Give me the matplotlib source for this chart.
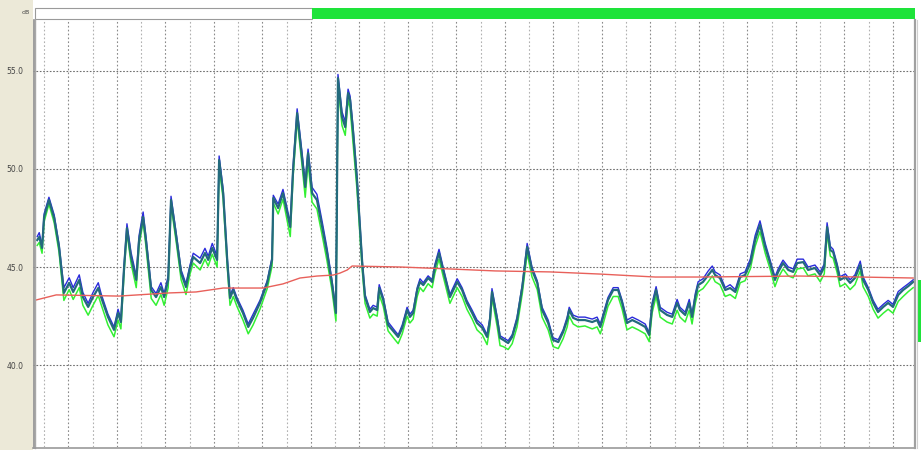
import matplotlib
matplotlib.use("Agg")
import matplotlib.pyplot as plt
from matplotlib.patches import Rectangle
from matplotlib.lines import Line2D

# Elapsed time of each reading (s)
t_sec = [43, 48, 55, 60, 72, 85, 97, 109, 122, 132,
         147, 156, 169, 181, 194, 201, 218, 233, 243, 250,
         258, 265, 275, 288, 295, 305, 312, 325, 337, 349,
         357, 367, 374, 387, 399, 411, 421, 429, 446, 458,
         466, 476, 488, 493, 503, 513, 520, 528, 537, 552,
         565, 577, 594, 612, 624, 627, 639, 651, 669, 676,
         686, 698, 706, 713, 723, 735, 748, 760, 772, 782,
         787, 797, 805, 812, 817, 824, 834, 842, 847, 854,
         866, 874, 884, 889, 899, 911, 928, 936, 946, 958,
         965, 973, 983, 990, 998, 1010, 1020, 1027, 1037, 1047,
         1064, 1082, 1094, 1106, 1119, 1131, 1144, 1156, 1163, 1168,
         1181, 1188, 1196, 1208, 1218, 1230, 1243, 1255, 1267, 1280,
         1292, 1307, 1319, 1332, 1344, 1354, 1359, 1369, 1381, 1398,
         1416, 1428, 1436, 1443, 1455, 1468, 1480, 1490, 1502, 1515,
         1530, 1547, 1557, 1564, 1574, 1584, 1601, 1614, 1626, 1633,
         1646, 1656, 1663, 1671, 1678, 1690, 1703, 1713, 1720, 1732,
         1745, 1757, 1770, 1782, 1794, 1807, 1819, 1831, 1844, 1856,
         1868, 1876, 1888, 1901, 1913, 1923, 1938, 1950, 1967, 1980,
         1990, 1997, 2005, 2012, 2022, 2029, 2042, 2054, 2066, 2079,
         2086, 2099, 2111, 2123, 2136, 2148, 2160, 2173, 2185, 2198,
         2210]

# Short-term equivalent level (dB)
leq = [46.37, 46.53, 45.97, 47.54, 48.41, 47.49, 46.02, 43.68, 44.19, 43.73,
       44.34, 43.47, 42.97, 43.47, 43.93, 43.47, 42.46, 41.80, 42.66, 42.20,
       45.00, 46.98, 45.51, 44.34, 46.37, 47.54, 46.37, 43.83, 43.47, 43.98,
       43.47, 44.34, 48.41, 46.53, 44.69, 43.98, 44.95, 45.51, 45.20, 45.71,
       45.36, 45.97, 45.36, 50.44, 48.76, 45.36, 43.42, 43.83, 43.32, 42.66,
       41.95, 42.41, 43.17, 44.19, 45.36, 48.51, 48.00, 48.76, 47.03, 49.93,
       52.83, 50.60, 49.07, 50.80, 48.76, 48.41, 47.03, 45.71, 44.19, 42.66,
       54.61, 52.63, 52.12, 53.85, 53.50, 51.97, 49.43, 46.88, 45.20, 43.47,
       42.71, 42.91, 42.81, 43.93, 43.32, 42.05, 41.64, 41.44, 41.90, 42.81,
       42.46, 42.66, 43.83, 44.24, 44.08, 44.44, 44.24, 45.00, 45.71, 44.85,
       43.47, 44.24, 43.83, 43.17, 42.66, 42.15, 41.90, 41.44, 42.30, 43.73,
       42.30, 41.39, 41.29, 41.13, 41.44, 42.30, 43.98, 46.02, 44.85, 44.19,
       42.81, 42.15, 41.29, 41.18, 41.69, 42.30, 42.81, 42.41, 42.30, 42.30,
       42.20, 42.30, 41.95, 42.46, 43.32, 43.83, 43.83, 43.17, 42.15, 42.30,
       42.15, 41.95, 41.54, 42.97, 43.83, 42.81, 42.56, 42.46, 43.17, 42.81,
       42.56, 43.17, 42.46, 43.47, 44.08, 44.24, 44.59, 44.85, 44.59, 44.44,
       43.83, 43.93, 43.73, 44.49, 44.59, 45.20, 46.37, 47.14, 46.02, 45.20,
       44.34, 44.75, 45.20, 44.85, 44.75, 45.20, 45.25, 44.85, 44.95, 44.59,
       45.00, 47.03, 45.86, 45.76, 45.00, 44.34, 44.49, 44.19, 44.44, 45.10,
       44.34, 43.83, 43.17, 42.71, 42.97, 43.17, 42.97, 43.58, 43.83, 44.03,
       44.24]

# Maximum level per interval (dB)
lmax = [46.55, 46.75, 46.10, 47.70, 48.55, 47.65, 46.15, 43.95, 44.45, 43.95,
        44.60, 43.70, 43.15, 43.70, 44.20, 43.65, 42.60, 41.95, 42.85, 42.35,
        45.15, 47.20, 45.75, 44.55, 46.60, 47.80, 46.55, 44.00, 43.65, 44.20,
        43.65, 44.55, 48.60, 46.70, 44.85, 44.15, 45.10, 45.70, 45.45, 45.95,
        45.55, 46.20, 45.55, 50.65, 48.95, 45.50, 43.55, 43.95, 43.45, 42.80,
        42.10, 42.60, 43.30, 44.30, 45.50, 48.65, 48.20, 48.95, 47.25, 50.15,
        53.05, 50.85, 49.30, 51.00, 49.05, 48.70, 47.30, 45.95, 44.35, 42.80,
        54.80, 52.90, 52.40, 54.05, 53.70, 52.20, 49.65, 47.05, 45.35, 43.60,
        42.85, 43.05, 42.95, 44.10, 43.45, 42.20, 41.75, 41.55, 42.05, 42.95,
        42.60, 42.80, 43.95, 44.40, 44.20, 44.55, 44.35, 45.15, 45.90, 45.00,
        43.60, 44.40, 43.95, 43.30, 42.80, 42.30, 42.05, 41.55, 42.45, 43.90,
        42.45, 41.50, 41.40, 41.25, 41.55, 42.45, 44.10, 46.20, 45.00, 44.30,
        42.95, 42.30, 41.40, 41.30, 41.80, 42.45, 42.95, 42.55, 42.45, 42.45,
        42.35, 42.45, 42.10, 42.60, 43.45, 43.95, 43.95, 43.30, 42.30, 42.45,
        42.30, 42.10, 41.65, 43.15, 44.00, 42.95, 42.70, 42.60, 43.35, 42.95,
        42.70, 43.35, 42.60, 43.65, 44.25, 44.40, 44.80, 45.05, 44.75, 44.60,
        43.95, 44.10, 43.85, 44.65, 44.75, 45.40, 46.60, 47.35, 46.20, 45.35,
        44.50, 44.90, 45.35, 45.00, 44.90, 45.40, 45.40, 45.00, 45.10, 44.75,
        45.15, 47.25, 46.05, 45.90, 45.15, 44.50, 44.65, 44.35, 44.60, 45.30,
        44.50, 43.95, 43.30, 42.85, 43.10, 43.30, 43.10, 43.75, 43.95, 44.15,
        44.35]

# Minimum level per interval (dB)
lmin = [46.10, 46.25, 45.70, 47.30, 48.20, 47.25, 45.75, 43.30, 43.85, 43.35,
        43.95, 43.05, 42.55, 43.05, 43.55, 43.10, 42.05, 41.45, 42.30, 41.85,
        44.75, 46.75, 45.20, 43.95, 46.10, 47.30, 46.05, 43.40, 43.05, 43.60,
        43.05, 43.95, 48.15, 46.25, 44.35, 43.60, 44.65, 45.20, 44.85, 45.40,
        45.05, 45.65, 45.00, 50.10, 48.45, 45.05, 43.05, 43.50, 43.00, 42.30,
        41.60, 42.05, 42.85, 43.90, 45.05, 48.25, 47.70, 48.45, 46.55, 49.60,
        52.50, 50.20, 48.55, 50.30, 48.30, 47.95, 46.60, 45.30, 43.85, 42.25,
        54.30, 52.20, 51.70, 53.50, 53.10, 51.40, 48.95, 46.45, 44.85, 43.15,
        42.40, 42.60, 42.50, 43.60, 43.00, 41.75, 41.30, 41.10, 41.60, 42.50,
        42.15, 42.35, 43.50, 43.95, 43.75, 44.15, 43.95, 44.70, 45.40, 44.55,
        43.15, 43.95, 43.50, 42.85, 42.35, 41.80, 41.55, 41.05, 42.00, 43.45,
        41.95, 41.00, 40.95, 40.80, 41.10, 41.95, 43.65, 45.70, 44.50, 43.85,
        42.45, 41.80, 40.95, 40.85, 41.35, 41.95, 42.50, 42.10, 41.95, 42.00,
        41.85, 41.95, 41.60, 42.10, 43.00, 43.50, 43.50, 42.85, 41.80, 41.95,
        41.80, 41.60, 41.20, 42.65, 43.50, 42.45, 42.20, 42.10, 42.80, 42.45,
        42.20, 42.80, 42.10, 43.15, 43.75, 43.90, 44.25, 44.55, 44.25, 44.10,
        43.50, 43.60, 43.40, 44.20, 44.30, 44.90, 46.05, 46.80, 45.70, 44.90,
        44.00, 44.45, 44.90, 44.55, 44.45, 44.90, 44.95, 44.55, 44.65, 44.25,
        44.65, 46.70, 45.55, 45.45, 44.70, 44.00, 44.15, 43.85, 44.10, 44.80,
        44.00, 43.50, 42.85, 42.40, 42.65, 42.85, 42.65, 43.25, 43.50, 43.75,
        43.95]

# Running (cumulative) equivalent level
run_t = [40, 90, 245, 369, 436, 503, 602, 651, 693, 735, 775, 792, 810,
         822, 941, 1064, 1176, 1312, 1436, 1572, 1683, 1930, 2079, 2210]
run_leq = [43.32, 43.58, 43.52, 43.68, 43.73, 43.93, 43.93, 44.14, 44.44,
           44.54, 44.59, 44.69, 44.85, 45.05, 45.00, 44.90, 44.80, 44.75,
           44.64, 44.49, 44.49, 44.54, 44.49, 44.44]

y_ticks = [40.0, 45.0, 50.0, 55.0]
y_tick_labels = ["40.0", "45.0", "50.0", "55.0"]
unit_label = "dB"

W, H = 921, 450
fig = plt.figure(figsize=(W / 100, H / 100), dpi=100, facecolor="white")


def fx(px):
    return px / W


def fy(py):
    return 1 - py / H


# beige panel on the left
fig.add_artist(Rectangle((0, 0), fx(33), 1, transform=fig.transFigure,
                         facecolor="#ECE9D8", edgecolor="none", zorder=0))

# overview bar across the top
fig.add_artist(Rectangle((fx(35), fy(19)), fx(312 - 35), 11 / H,
                         transform=fig.transFigure, facecolor="white",
                         edgecolor="#9A9A9A", linewidth=0.8, zorder=1))
fig.add_artist(Rectangle((fx(312), fy(19)), fx(915 - 312), 11 / H,
                         transform=fig.transFigure, facecolor="#1EE33A",
                         edgecolor="none", zorder=1))
# level indicator on the right edge
fig.add_artist(Rectangle((fx(917), fy(342)), fx(5), 62 / H,
                         transform=fig.transFigure, facecolor="#1EE33A",
                         edgecolor="none", zorder=1))

fig.text(fx(26), fy(13), unit_label, fontsize=4.5, color="#444444",
         ha="center", va="center")

ax = fig.add_axes([fx(36), 3 / H, fx(914 - 36), 427 / H])
ax.set_facecolor("white")
ax.set_xlim(40, 2212)
ax.set_ylim(35.84, 57.57)

# vertical minute grid
for k in range(1, 37):
    tg = 60 * k
    col = "#8A8A8A" if k % 2 == 0 else "#B0B0B0"
    ax.axvline(tg, color=col, linewidth=0.8, linestyle=(0, (1.5, 2.0)),
               zorder=1)
# horizontal level grid
for yv in y_ticks:
    ax.axhline(yv, color="#707070", linewidth=0.8, linestyle=(0, (1.5, 1.5)),
               zorder=1)

ax.plot(t_sec, lmin, color="#33F033", linewidth=1.1, zorder=3)
ax.plot(t_sec, lmax, color="#2A2ADB", linewidth=1.0, zorder=4)
ax.plot(t_sec, leq, color="#236A7C", linewidth=1.6, zorder=5)
ax.plot(run_t, run_leq, color="#E8605A", linewidth=1.0, zorder=6)

ax.set_xticks([])
ax.set_yticks(y_ticks)
ax.set_yticklabels(y_tick_labels)
ax.tick_params(axis="y", length=2, width=0.6, color="#888888", pad=7,
               labelsize=5.5, labelcolor="#444444")
for s in ax.spines.values():
    s.set_visible(False)

# sunken frame around the plotting area
frame = [
    ((33.5, 33.5), (20, 448), "#8C8C8C", 1.2),
    ((35.3, 35.3), (20, 448), "#A8A8A8", 1.0),
    ((33, 915), (447.5, 447.5), "#9A9A9A", 1.2),
    ((914.8, 914.8), (20, 448), "#A0A0A0", 1.6),
    ((916.5, 916.5), (20, 448), "#D0D0D0", 0.8),
]
for xs, ys, col, lw in frame:
    fig.add_artist(Line2D([fx(xs[0]), fx(xs[1])], [fy(ys[0]), fy(ys[1])],
                          transform=fig.transFigure, color=col,
                          linewidth=lw, zorder=7))

fig.savefig("out.png", dpi=100, facecolor="white")
